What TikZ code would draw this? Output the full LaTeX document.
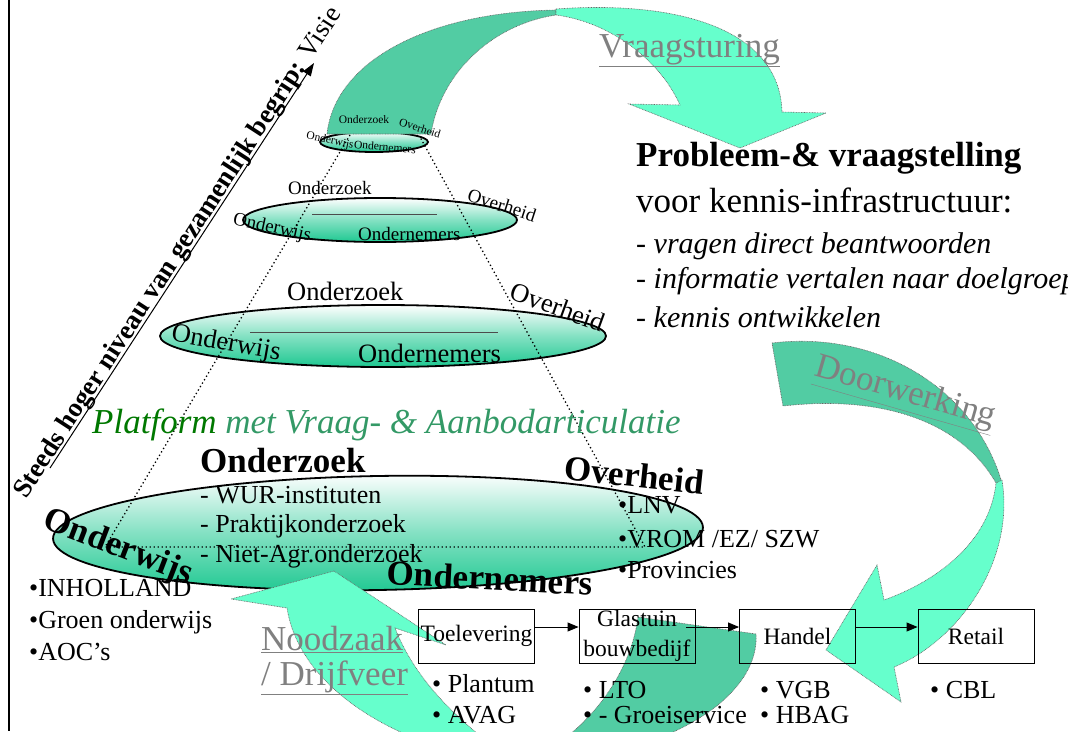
\documentclass[tikz,border=0pt]{standalone}
\usepackage{fontspec}
\setmainfont{Liberation Serif}
\usetikzlibrary{arrows.meta,positioning}

\definecolor{backgreen}{RGB}{82,204,163}
\definecolor{frontgreen}{RGB}{102,255,204}
\definecolor{ringgreen}{RGB}{30,200,145}
\definecolor{platgreen}{RGB}{0,120,0}
\definecolor{artgreen}{RGB}{51,153,102}
\definecolor{labelgray}{RGB}{128,128,128}

\newcommand{\fsz}[1]{\fontsize{#1}{#1}\selectfont}

\tikzset{
	txt/.style={inner sep=0pt, anchor=base west},
	mid/.style={inner sep=0pt},
	ring/.style={draw, line width=1.8pt, top color=white, bottom color=ringgreen, middle color=white!45!ringgreen},
	bar/.style={draw=black!70, line width=1pt},
	band/.style={draw=black!60, line width=0.6pt, dash pattern=on 0.8pt off 0.8pt},
	cone/.style={line width=1.3pt, dash pattern=on 1.3pt off 2.7pt},
	chain/.style={draw, line width=0.9pt, minimum width=116pt, minimum height=54pt, inner sep=0pt, align=center, font=\fontsize{23.5}{30}\selectfont},
	flow/.style={line width=0.9pt, -{Triangle[length=11pt,width=9pt]}},
	graylabel/.style={txt, text=labelgray, font=\fsz{35}},
}

\begin{document}
\begin{tikzpicture}[x=1pt, y=-1pt]
	\clip (0,0) rectangle (1068,731);

	% Instances/Symbols:
	\draw[ring] (374,142) ellipse [x radius=54pt, y radius=10pt];
	\draw[ring] (380,220) ellipse [x radius=137pt, y radius=22pt];
	\draw[ring] (383,336) ellipse [x radius=223pt, y radius=31pt];
	\draw[ring, rotate around={1:(378,533)}] (378,533) ellipse [x radius=325pt, y radius=57pt];
	\draw[bar] (312,214) -- (437,214);
	\draw[bar] (250,332) -- (498,332);

	% Arrows (back part first):
	\draw[band, fill=backgreen] (327,134) .. controls (335,60) and (430,12) .. (556,10)
		-- (556,15) .. controls (490,25) and (440,75) .. (431,134) -- cycle;
	\draw[band, fill=frontgreen] (556,9) .. controls (680,0) and (780,30) .. (782,112)
		-- (826,113) -- (740,148) -- (629,104) -- (680,105)
		.. controls (660,60) and (610,22) .. (556,15) -- cycle;

	\draw[band, fill=backgreen] (772,343) .. controls (880,330) and (975,390) .. (1002,483)
		-- (996,483) .. controls (960,420) and (880,395) .. (783,406) -- cycle;
	\draw[band, fill=frontgreen] (1002,480) .. controls (1015,560) and (960,640) .. (894,667)
		-- (901,702) -- (826,650) -- (877,565) -- (884,600)
		.. controls (940,580) and (990,540) .. (996,483) -- cycle;

	\draw[band, fill=backgreen] (638,617) -- (756,634) .. controls (760,700) and (660,760) .. (520,765)
		.. controls (580,740) and (630,680) .. (638,617) -- cycle;
	\draw[band, fill=frontgreen] (334,571) -- (231,599) -- (287,608)
		.. controls (300,690) and (400,750) .. (520,765)
		.. controls (460,725) and (415,680) .. (395,628) -- (446,645) -- cycle;

	% Lines:
	\draw[line width=2pt] (9,0) -- (9,731);
	\draw[cone] (350,135) -- (105,547) -- (645,547) -- (420,137);

	\coordinate (visie base) at (50,468);
	\coordinate (visie tip) at (314,63);
	\draw[line width=1pt, -{Triangle[length=13pt,width=9pt]}] (visie base) -- (visie tip);

	% Nodes:
	\node[chain] (toel) at (476.5,636) {Toelevering};
	\node[chain] (glas) at (637,636) {Glastuin\\bouwbedijf};
	\node[chain] (handel) at (797.5,636) {Handel};
	\node[chain] (retail) at (976,636) {Retail};

	\draw[flow] ([yshift=9pt]toel.east) -- ([yshift=9pt]glas.west);
	\draw[flow] ([xshift=-9pt,yshift=9pt]glas.east) -- ([yshift=9pt]handel.west);
	\draw[flow] ([yshift=9pt]handel.east) -- ([yshift=9pt]retail.west);

	% Labels:
	\node[txt, rotate=57, font=\fsz{27}] (visie) at (26,500) {\textbf{Steeds hoger niveau van gezamenlijk begrip:} Visie};

	\node[mid, font=\fsz{11.5}] (oz1) at (364,120) {Onderzoek};
	\node[mid, font=\fsz{11.5}, rotate=-18] (oh1) at (420,128) {Overheid};
	\node[mid, font=\fsz{11.5}, rotate=-12] (ow1) at (330,141) {Onderwijs};
	\node[mid, font=\fsz{11.5}, rotate=-5] (on1) at (385,147) {Ondernemers};

	\node[txt, font=\fsz{19}] (oz2) at (288,194) {Onderzoek};
	\node[mid, font=\fsz{19}, rotate=-18] (oh2) at (502,205) {Overheid};
	\node[mid, font=\fsz{19}, rotate=-12] (ow2) at (272,228) {Onderwijs};
	\node[txt, font=\fsz{19}] (on2) at (358,240) {Ondernemers};

	\node[txt, font=\fsz{26.5}] (oz3) at (287,300) {Onderzoek};
	\node[mid, font=\fsz{26.5}, rotate=-20] (oh3) at (558,307) {Overheid};
	\node[mid, font=\fsz{26.5}, rotate=-10] (ow3) at (226,344) {Onderwijs};
	\node[txt, font=\fsz{26.5}] (on3) at (358,362) {Ondernemers};

	\node[txt, font=\fsz{35}\itshape] (platform) at (92,433) {\textcolor{platgreen}{Platform} \textcolor{artgreen}{met Vraag- \& Aanbodarticulatie}};

	\node[txt, font=\fsz{35}\bfseries] (oz4) at (200,472) {Onderzoek};
	\node[txt, font=\fsz{26}] (wur) at (200,503) {- WUR-instituten};
	\node[txt, font=\fsz{26}] (prak) at (200,532) {- Praktijkonderzoek};
	\node[txt, font=\fsz{26}] (niet) at (200,562) {- Niet-Agr.onderzoek};
	\node[mid, font=\fsz{35}\bfseries, rotate=-6] (oh4) at (634,475) {Overheid};
	\node[txt, font=\fsz{26}] (lnv) at (618,513) {•LNV};
	\node[txt, font=\fsz{26}] (vrom) at (618,547) {•VROM /EZ/ SZW};
	\node[txt, font=\fsz{26}] (prov) at (618,578) {•Provincies};
	\node[mid, font=\fsz{35}\bfseries, rotate=-21] (ow4) at (118,548) {Onderwijs};
	\node[mid, font=\fsz{35}\bfseries, rotate=-3] (on4) at (490,578) {Ondernemers};

	\node[txt, font=\fsz{26}] (inh) at (29,596) {•INHOLLAND};
	\node[txt, font=\fsz{26}] (groen) at (29,628) {•Groen onderwijs};
	\node[txt, font=\fsz{26}] (aoc) at (29,660) {•AOC’s};

	\node[txt, font=\fsz{35}\bfseries] (probleem) at (636,166) {Probleem-\& vraagstelling};
	\node[txt, font=\fsz{35}] (voor) at (636,212) {voor kennis-infrastructuur:};
	\node[txt, font=\fsz{30}\itshape] (vragen) at (636,253) {- vragen direct beantwoorden};
	\node[txt, font=\fsz{30}\itshape] (info) at (636,288) {- informatie vertalen naar doelgroep};
	\node[txt, font=\fsz{30}\itshape] (kennis) at (636,327) {- kennis ontwikkelen};

	\node[graylabel] (vraag) at (599,57) {\underline{Vraagsturing}};
	\node[graylabel, anchor=center, rotate=-16] (door) at (905,394) {\underline{Doorwerking}};
	\node[graylabel] (nood) at (261,650) {\underline{Noodzaak}};
	\node[graylabel] (drijf) at (261,685) {\underline{/ Drijfveer}};

	\node[txt, font=\fsz{26}] (plantum) at (432,692) {• Plantum};
	\node[txt, font=\fsz{26}] (avag) at (432,723) {• AVAG};
	\node[txt, font=\fsz{26}] (lto) at (583,698) {• LTO};
	\node[txt, font=\fsz{26}] (groei) at (583,723) {• - Groeiservice};
	\node[txt, font=\fsz{26}] (vgb) at (760,698) {• VGB};
	\node[txt, font=\fsz{26}] (hbag) at (760,723) {• HBAG};
	\node[txt, font=\fsz{26}] (cbl) at (930,698) {• CBL};

\end{tikzpicture}
\end{document}
